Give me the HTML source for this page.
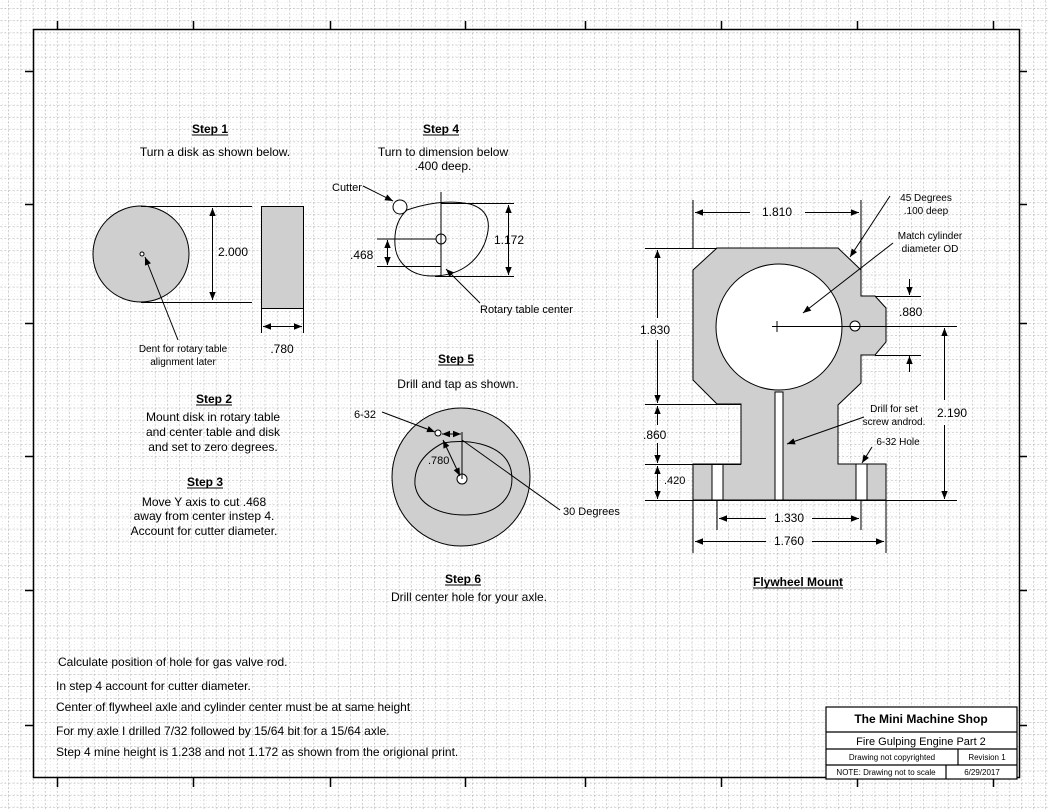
<!DOCTYPE html>
<html><head><meta charset="utf-8"><style>
html,body{margin:0;padding:0;background:#fff}
svg{display:block}
text{font-family:"Liberation Sans",Arial,sans-serif;fill:#000}
</style></head><body>
<svg width="1049" height="809" viewBox="0 0 1049 809" xmlns="http://www.w3.org/2000/svg">
<defs>
<pattern id="minor" x="8" y="8" width="6" height="6" patternUnits="userSpaceOnUse">
<path d="M0 0H6M0 0V6" stroke="#e0e0e0" stroke-width="1" stroke-dasharray="1 2"/>
</pattern>
<pattern id="grid" x="8.5" y="8.5" width="12.2" height="12.1" patternUnits="userSpaceOnUse">
<path d="M0 0H12.2M0 0V12.1" stroke="#a8a8a8" stroke-width="1" stroke-dasharray="2 2"/>
</pattern>
<marker id="a" viewBox="0 0 10 10" refX="10" refY="5" markerWidth="10" markerHeight="8" orient="auto-start-reverse" markerUnits="userSpaceOnUse">
<path d="M0 1L10 5L0 9z" fill="#000"/>
</marker>
</defs>
<rect width="1049" height="809" fill="#fff"/>
<rect width="1049" height="809" fill="url(#minor)"/>
<rect width="1049" height="809" fill="url(#grid)"/>
<g stroke="#000" stroke-width="1.5" fill="none">
<rect x="33.5" y="29.5" width="986" height="748"/>
<path d="M57.5 29V21M193.5 29V21M330.5 29V21M465.5 29V21M585.5 29V21M721.5 29V21M857.5 29V21M993.5 29V21
M57.5 778V787M193.5 778V787M330.5 778V787M465.5 778V787M585.5 778V787M721.5 778V787M857.5 778V787M993.5 778V787
M25 71.5H33M25 204.5H33M25 323.5H33M25 456.5H33M25 590.5H33M25 725.5H33
M1019 71.5H1027M1019 204.5H1027M1019 323.5H1027M1019 456.5H1027M1019 590.5H1027M1019 725.5H1027"/>
</g>
<g font-size="12">
<text x="210" y="133" text-anchor="middle" font-weight="bold">Step 1</text>
<line x1="192" y1="135" x2="228" y2="135" stroke="#000"/>
<text x="215" y="156" text-anchor="middle">Turn a disk as shown below.</text>
<g stroke="#000" fill="#cfcfcf">
<circle cx="141" cy="254" r="48"/>
<rect x="261.5" y="206.5" width="42" height="102"/>
</g>
<circle cx="142" cy="254" r="2" fill="#fff" stroke="#000"/>
<g stroke="#000" fill="none">
<path d="M141 206.5H252M141 302.5H252M261.5 308V333M303.5 308V333"/>
<line x1="212.5" y1="208" x2="212.5" y2="300" marker-start="url(#a)" marker-end="url(#a)"/>
<line x1="263" y1="326.5" x2="302" y2="326.5" marker-start="url(#a)" marker-end="url(#a)"/>
<line x1="178" y1="340" x2="145" y2="257" marker-end="url(#a)"/>
</g>
<text x="218" y="256">2.000</text>
<text x="282" y="353" text-anchor="middle">.780</text>
<text x="183" y="352" text-anchor="middle" font-size="10">Dent for rotary table</text>
<text x="183" y="365" text-anchor="middle" font-size="10">alignment later</text>
<text x="214" y="403" text-anchor="middle" font-weight="bold">Step 2</text>
<line x1="196" y1="405" x2="232" y2="405" stroke="#000"/>
<text x="213" y="421" text-anchor="middle">Mount disk in rotary table</text>
<text x="213" y="436" text-anchor="middle">and center table and disk</text>
<text x="213" y="451" text-anchor="middle">and set to zero degrees.</text>
<text x="205" y="486" text-anchor="middle" font-weight="bold">Step 3</text>
<line x1="187" y1="488" x2="223" y2="488" stroke="#000"/>
<text x="204" y="506" text-anchor="middle">Move Y axis to cut .468</text>
<text x="204" y="520" text-anchor="middle">away from center instep 4.</text>
<text x="204" y="535" text-anchor="middle">Account for cutter diameter.</text>
<text x="441" y="133" text-anchor="middle" font-weight="bold">Step 4</text>
<line x1="423" y1="135" x2="459" y2="135" stroke="#000"/>
<text x="443" y="156" text-anchor="middle">Turn to dimension below</text>
<text x="443" y="170" text-anchor="middle">.400 deep.</text>
<g stroke="#000" fill="none">
<circle cx="400" cy="207" r="7" fill="#fff"/>
<path d="M407 210C430 202 450 200 470 204C490 210 492 225 484 245C476 262 460 276 432 276C410 276 396 262 395 245C394 230 398 218 407 210Z"/>
<circle cx="441" cy="239" r="5"/>
<path d="M441 192V276M377 239H436M441 203.5H514M435 276.5H514M377 266.5H441"/>
<line x1="508.5" y1="205" x2="508.5" y2="275" marker-start="url(#a)" marker-end="url(#a)"/>
<line x1="387.5" y1="240" x2="387.5" y2="265" marker-start="url(#a)" marker-end="url(#a)"/>
<line x1="363" y1="186" x2="393" y2="201" marker-end="url(#a)"/>
<line x1="480" y1="303" x2="446" y2="269" marker-end="url(#a)"/>
</g>
<text x="332" y="191" font-size="11">Cutter</text>
<text x="350" y="259">.468</text>
<text x="494" y="244">1.172</text>
<text x="480" y="313" font-size="11">Rotary table center</text>
<text x="456" y="363" text-anchor="middle" font-weight="bold">Step 5</text>
<line x1="438" y1="365" x2="474" y2="365" stroke="#000"/>
<text x="458" y="388" text-anchor="middle">Drill and tap as shown.</text>
<g stroke="#000">
<circle cx="461" cy="477" r="69" fill="#cfcfcf"/>
<path fill="none" d="M443 443C470 438 505 445 511 470C516 495 500 515 465 515C440 515 418 505 415 485C414 470 420 455 443 443Z"/>
<circle cx="462" cy="479" r="5" fill="#fff"/>
<circle cx="438" cy="433" r="3" fill="#fff"/>
<path fill="none" d="M462 432V479M462 440L560 510"/>
<line x1="382" y1="412" x2="435" y2="432" marker-end="url(#a)"/>
<line x1="442" y1="434" x2="461" y2="434" marker-start="url(#a)" marker-end="url(#a)"/>
<line x1="443" y1="440" x2="460" y2="476" marker-start="url(#a)" marker-end="url(#a)"/>
</g>
<text x="354" y="418" font-size="11">6-32</text>
<text x="428" y="464" font-size="11">.780</text>
<text x="563" y="515" font-size="11">30 Degrees</text>
<text x="463" y="583" text-anchor="middle" font-weight="bold">Step 6</text>
<line x1="445" y1="585" x2="481" y2="585" stroke="#000"/>
<text x="469" y="601" text-anchor="middle">Drill center hole for your axle.</text>
<g stroke="#000">
<path fill="#cfcfcf" d="M693 270L717 248H838L861 270V296H875L886 308V342L875 355H861V383L838 405V464H886V500H693V464H741V404H717L693 380Z"/>
<circle cx="779" cy="327" r="63" fill="#fff"/>
<rect x="775" y="392" width="8" height="108" fill="#fff"/>
<rect x="712" y="464" width="11" height="36" fill="#fff"/>
<rect x="856" y="464" width="11" height="36" fill="#fff"/>
<circle cx="855" cy="326" r="5" fill="#fff"/>
<path fill="none" d="M693 200V248M861 200V270M645 248.5H717M645 404.5H741M645 464.5H741M645 500.5H957M772 326.5H957M875 296.5H921M875 355.5H921M717 500V530M861 500V530M693 500V553M886 500V553M777 321V332"/>
<line x1="695" y1="212.5" x2="750" y2="212.5" marker-start="url(#a)"/>
<line x1="805" y1="212.5" x2="859" y2="212.5" marker-end="url(#a)"/>
<line x1="657.5" y1="250" x2="657.5" y2="318" marker-start="url(#a)"/>
<line x1="657.5" y1="340" x2="657.5" y2="403" marker-end="url(#a)"/>
<line x1="657.5" y1="406" x2="657.5" y2="425" marker-start="url(#a)"/>
<line x1="657.5" y1="443" x2="657.5" y2="463" marker-end="url(#a)"/>
<line x1="657.5" y1="466" x2="657.5" y2="499" marker-start="url(#a)" marker-end="url(#a)"/>
<line x1="909.5" y1="279" x2="909.5" y2="295" marker-end="url(#a)"/>
<line x1="909.5" y1="372" x2="909.5" y2="356" marker-end="url(#a)"/>
<line x1="944.5" y1="328" x2="944.5" y2="400" marker-start="url(#a)"/>
<line x1="944.5" y1="425" x2="944.5" y2="499" marker-end="url(#a)"/>
<line x1="719" y1="518.5" x2="766" y2="518.5" marker-start="url(#a)"/>
<line x1="812" y1="518.5" x2="859" y2="518.5" marker-end="url(#a)"/>
<line x1="695" y1="541.5" x2="766" y2="541.5" marker-start="url(#a)"/>
<line x1="812" y1="541.5" x2="884" y2="541.5" marker-end="url(#a)"/>
<line x1="890" y1="196" x2="850" y2="257" marker-end="url(#a)"/>
<line x1="893" y1="243" x2="803" y2="313" marker-end="url(#a)"/>
<line x1="864" y1="417" x2="787" y2="444" marker-end="url(#a)"/>
<line x1="872" y1="447" x2="862" y2="463" marker-end="url(#a)"/>
</g>
<text x="777" y="216" text-anchor="middle">1.810</text>
<text x="640" y="334">1.830</text>
<text x="643" y="439">.860</text>
<text x="664" y="484" font-size="11">.420</text>
<text x="899" y="316">.880</text>
<text x="937" y="417">2.190</text>
<text x="789" y="522" text-anchor="middle">1.330</text>
<text x="789" y="545" text-anchor="middle">1.760</text>
<text x="926" y="201" text-anchor="middle" font-size="10">45 Degrees</text>
<text x="926" y="214" text-anchor="middle" font-size="10">.100 deep</text>
<text x="930" y="239" text-anchor="middle" font-size="10">Match cylinder</text>
<text x="930" y="252" text-anchor="middle" font-size="10">diameter OD</text>
<text x="894" y="412" text-anchor="middle" font-size="10">Drill for set</text>
<text x="894" y="425" text-anchor="middle" font-size="10">screw androd.</text>
<text x="898" y="445" text-anchor="middle" font-size="10">6-32 Hole</text>
<text x="798" y="586" text-anchor="middle" font-weight="bold">Flywheel Mount</text>
<line x1="753" y1="588" x2="843" y2="588" stroke="#000"/>
<text x="58" y="666">Calculate position of hole for gas valve rod.</text>
<text x="56" y="690">In step 4 account for cutter diameter.</text>
<text x="56" y="711">Center of flywheel axle and cylinder center must be at same height</text>
<text x="56" y="735">For my axle I drilled 7/32 followed by 15/64 bit for a 15/64 axle.</text>
<text x="56" y="756">Step 4 mine height is 1.238 and not 1.172 as shown from the origional print.</text>
<g stroke="#000" fill="#fff" stroke-width="1.2">
<rect x="826" y="707" width="191" height="72"/>
<path d="M826 732H1017M826 749H1017M826 765H1017M958 749V765M946 765V779"/>
</g>
<text x="921" y="723" text-anchor="middle" font-weight="bold" font-size="12">The Mini Machine Shop</text>
<text x="921" y="745" text-anchor="middle" font-size="11">Fire Gulping Engine Part  2</text>
<text x="892" y="760" text-anchor="middle" font-size="8">Drawing not copyrighted</text>
<text x="987" y="760" text-anchor="middle" font-size="8">Revision 1</text>
<text x="886" y="775" text-anchor="middle" font-size="8">NOTE: Drawing not to scale</text>
<text x="982" y="775" text-anchor="middle" font-size="8">6/29/2017</text>
</g>
</svg>
</body></html>
